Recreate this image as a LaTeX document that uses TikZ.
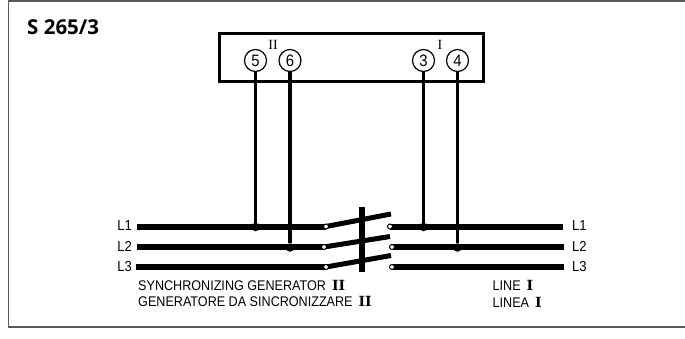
\documentclass[tikz,border=0pt]{standalone}
\usepackage{fontspec}
\setmainfont[FakeStretch=0.9]{Liberation Sans}
\newfontfamily\titlefont{Open Sans}
\newfontfamily\romanfont{Liberation Serif}
\newfontfamily\slabfont{DejaVu Serif}
\tikzset{
	phase/.style={line width=6pt},
	wire/.style={line width=3.2pt},
	blade/.style={line width=5pt},
	terminal/.style={circle, draw, line width=1.2pt, fill=white, minimum size=22pt, inner sep=0pt, font=\fontsize{16.5}{16.5}\selectfont},
	contact/.style={circle, draw=black, line width=1pt, fill=white, minimum size=5pt, inner sep=0pt},
	junction/.style={circle, fill=black, minimum size=8.5pt, inner sep=0pt},
	phaselabel/.style={inner sep=0pt, font=\fontsize{14.5}{14.5}\selectfont},
	caption/.style={anchor=west, inner sep=0pt, font=\fontsize{14}{14}\selectfont},
	numeral/.style={inner sep=0pt, font=\romanfont\fontsize{14}{14}\selectfont}
}
\newcommand{\gennum}[1]{\hspace{2.5pt}{\slabfont\bfseries\fontsize{14}{14}\selectfont #1}}
\begin{document}
\begin{tikzpicture}
		[
		x=1pt, y=-1pt
		]
		\useasboundingbox (0,0) rectangle (685,338);
		
		%Rahmen
		\draw[line width=1.1pt, black!65] (685,1) -- (8.5,1) -- (8.5,327) -- (685,327);
		\node[anchor=west, inner sep=0pt, font=\titlefont\bfseries\fontsize{20.5}{20.5}\selectfont] (title) at (27,27) {S 265/3};
		
		%Kasten
		\node[draw, line width=3pt, minimum width=264pt, minimum height=48pt, inner sep=0pt] (box) at (351,57) {};
		\node[numeral] (markII) at (273,45) {II};
		\node[numeral] (markI) at (440,45) {I};
		
		%Anschluesse
		\node[terminal] (t5) at (255.5,60.5) {5};
		\node[terminal] (t6) at (290,60.5) {6};
		\node[terminal] (t3) at (423.5,60.5) {3};
		\node[terminal] (t4) at (457.5,60.5) {4};
		
		%Phasen links
		\node[phaselabel, anchor=east] (a1) at (132,225.5) {L1};
		\node[phaselabel, anchor=east] (a2) at (132,246) {L2};
		\node[phaselabel, anchor=east] (a3) at (132,266.5) {L3};
		\coordinate (p1) at (137,226.5);
		\coordinate (p2) at (137,247);
		\coordinate (p3) at (136,267);
		\coordinate (c1) at (326,226.5);
		\coordinate (c2) at (324,247);
		\coordinate (c3) at (326,267);
		\draw[phase] (p1) -- (c1);
		\draw[phase] (p2) -- (c2);
		\draw[phase] (p3) -- (c3);
		
		%Phasen rechts
		\node[phaselabel, anchor=west] (b1) at (572,225.5) {L1};
		\node[phaselabel, anchor=west] (b2) at (572,246) {L2};
		\node[phaselabel, anchor=west] (b3) at (572,267) {L3};
		\coordinate (q1) at (563,226.5);
		\coordinate (q2) at (563.5,247);
		\coordinate (q3) at (563.5,267);
		\coordinate (d1) at (390,226.5);
		\coordinate (d2) at (392,247);
		\coordinate (d3) at (392,267);
		\draw[phase] (d1) -- (q1);
		\draw[phase] (d2) -- (q2);
		\draw[phase] (d3) -- (q3);
		
		%Messleitungen
		\node[junction] (j5) at (255.5,227) {};
		\node[junction] (j6) at (290,247.5) {};
		\node[junction] (j3) at (423.5,227) {};
		\node[junction] (j4) at (457.5,247.5) {};
		\draw[wire] (t5) -- (j5);
		\draw[wire] (t6) -- (j6);
		\draw[wire] (t3) -- (j3);
		\draw[wire] (t4) -- (j4);
		
		%Schalter
		\coordinate (e1) at (391,214);
		\coordinate (e2) at (390,236.5);
		\coordinate (e3) at (391,255.5);
		\draw[blade] (c1) -- (e1);
		\draw[blade] (c2) -- (e2);
		\draw[blade] (c3) -- (e3);
		\coordinate (s1) at (362,207);
		\coordinate (s2) at (362,272);
		\draw[line width=6pt] (s1) -- (s2);
		\node[contact] (k1) at (c1) {};
		\node[contact] (k2) at (c2) {};
		\node[contact] (k3) at (c3) {};
		\node[contact] (k4) at (d1) {};
		\node[contact] (k5) at (d2) {};
		\node[contact] (k6) at (d3) {};
		
		%Beschriftung
		\node[caption] (gen1) at (138,285) {SYNCHRONIZING GENERATOR \gennum{II}};
		\node[caption] (gen2) at (138,301) {GENERATORE DA SINCRONIZZARE \gennum{II}};
		\node[caption] (line1) at (492.5,285) {LINE \gennum{I}};
		\node[caption] (line2) at (492.5,302) {LINEA \gennum{I}};
	\end{tikzpicture}
\end{document}
